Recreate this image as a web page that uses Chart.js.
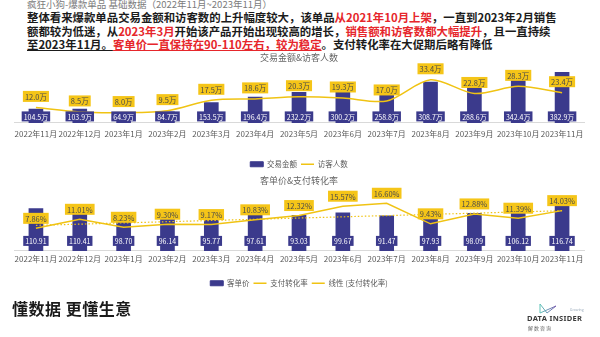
<!DOCTYPE html>
<html lang="zh-CN">
<head>
<meta charset="utf-8">
<title>疯狂小狗-爆款单品 基础数据</title>
<script src="https://cdn.jsdelivr.net/npm/chart.js@4.4.1/dist/chart.umd.min.js"></script>
<style>
  html, body { margin: 0; padding: 0; background: #fff; }
  body {
    width: 600px; height: 337px; position: relative; overflow: hidden;
    font-family: "Noto Sans CJK SC", "Noto Sans", sans-serif;
  }
  .sub {
    position: absolute; left: 27px; top: -1px; font-size: 9.5px; line-height: 11px;
    color: #7b7b7b; white-space: nowrap;
  }
  .summary {
    position: absolute; left: 27px; top: 11px; font-size: 11.4px; line-height: 13.6px;
    font-weight: 700; color: #1b1b1b; white-space: nowrap;
  }
  .summary .hl { color: #e6262b; }
  .summary .ul { text-decoration: underline; }
  canvas { position: absolute; left: 0; }
  #amountChart { top: 49px; }
  #priceChart { top: 172px; }
  .slogan {
    position: absolute; left: 12px; top: 298px; font-size: 16px; line-height: 20px;
    font-weight: 700; color: #1b1b1b; letter-spacing: 0.5px; white-space: nowrap;
  }
  .logo { position: absolute; left: 524px; top: 298px; width: 66px; height: 36px; }
  .logo .name {
    position: absolute; left: 3px; top: 15px; font-size: 7.5px; font-weight: 700;
    color: #3a3a3a; letter-spacing: 0.3px; white-space: nowrap; font-family: "Noto Sans", sans-serif;
  }
  .logo .grow { position: absolute; left: 46px; top: 9px; font-size: 3.5px; color: #9ab; }
  .logo .cn { position: absolute; left: 4px; top: 26px; font-size: 5px; color: #666; letter-spacing: 1px; }
</style>
</head>
<body>
<div class="sub">疯狂小狗-爆款单品 基础数据（2022年11月~2023年11月）</div>
<div class="summary">
  <div>整体看来爆款单品交易金额和访客数的上升幅度较大，该单品<span class="hl">从2021年10月上架</span>，一直到2023年2月销售</div>
  <div>额都较为低迷，从<span class="hl">2023年3月</span>开始该产品开始出现较高的增长，<span class="hl">销售额和访客数都大幅提升</span>，且一直持续</div>
  <div><span class="ul">至2023年11月。</span><span class="hl ul">客单价一直保持在90-110左右，较为稳定</span>。支付转化率在大促期后略有降低</div>
</div>

<canvas id="amountChart" width="600" height="129"></canvas>
<canvas id="priceChart" width="600" height="125"></canvas>

<div class="slogan">懂数据 更懂生意</div>
<div class="logo">
  <svg width="40" height="16" viewBox="0 0 40 16">
    <defs>
      <linearGradient id="lg" x1="0" x2="1" y1="0" y2="0">
        <stop offset="0" stop-color="#5fc4b8"/>
        <stop offset="1" stop-color="#7a5fb0"/>
      </linearGradient>
    </defs>
    <polyline points="16,3 23,12 32,5 16,12 16,3" fill="none" stroke="url(#lg)" stroke-width="1"/>
  </svg>
  <div class="grow">Growing</div>
  <div class="name">DATA INSIDER</div>
  <div class="cn">解数咨询</div>
</div>

<script>
const months = ['2022年11月', '2022年12月', '2023年1月', '2023年2月', '2023年3月', '2023年4月',
  '2023年5月', '2023年6月', '2023年7月', '2023年8月', '2023年9月', '2023年10月', '2023年11月'];

// 交易金额 / 访客人数（万）
const amount = [104.5, 103.9, 64.9, 84.7, 153.5, 196.4, 232.2, 300.2, 258.8, 308.7, 288.6, 342.4, 382.9];
const visitors = [12.0, 8.5, 8.0, 9.5, 17.5, 18.6, 20.3, 19.3, 17.0, 33.4, 22.8, 28.3, 23.4];

// 客单价 / 支付转化率（%）
const price = [110.91, 110.41, 98.70, 96.14, 95.77, 97.61, 93.03, 99.67, 91.47, 97.93, 98.09, 106.12, 116.74];
const conversion = [7.86, 11.01, 8.23, 9.30, 9.17, 10.83, 12.32, 15.57, 16.60, 9.43, 12.88, 11.39, 14.03];
// 线性趋势线首尾两端
const trendEnds = [8.9, 14.0];

const NAVY = '#3b3a8c';
const GOLD = '#f0c313';
const FONT = '"Noto Sans CJK SC", "Noto Sans", sans-serif';

Chart.defaults.font.family = FONT;

// 在柱子底部 / 折线点上方画带底色的数值框
const valueBoxes = {
    id: 'valueBoxes',
    afterDatasetsDraw(chart) {
        const ctx = chart.ctx;
        const base = chart.chartArea.bottom;
        chart.data.datasets.forEach((ds, i) => {
            const box = ds.box;
            if (!box) return;
            const meta = chart.getDatasetMeta(i);
            ctx.save();
            ctx.font = `${box.size}px ${FONT}`;
            ctx.textAlign = 'center';
            ctx.textBaseline = 'middle';
            meta.data.forEach((el, j) => {
                const text = box.format(ds.data[j]);
                const w = ctx.measureText(text).width + 4;
                const h = box.height;
                const cy = box.anchor === 'base' ? base - box.offset : el.y - box.offset;
                ctx.fillStyle = box.bg;
                ctx.fillRect(el.x - w / 2, cy - h / 2, w, h);
                ctx.fillStyle = box.color;
                ctx.fillText(text, el.x, cy + 0.5);
            });
            ctx.restore();
        });
    }
};

// 图例按数据集顺序排列，柱子用方块、折线用线段
function legendItems(chart) {
    const items = Chart.defaults.plugins.legend.labels.generateLabels(chart);
    items.sort((a, b) => a.datasetIndex - b.datasetIndex);
    items.forEach((it) => {
        const ds = chart.data.datasets[it.datasetIndex];
        it.pointStyle = ds.type === 'bar' ? 'rect' : 'line';
        it.lineWidth = ds.type === 'bar' ? 1 : 1.5;
    });
    return items;
}

function makeOptions(title, barMax, lineMax, pad) {
    return {
        responsive: false,
        animation: false,
        layout: { padding: { left: 14, right: 16, top: 0, bottom: 0 } },
        scales: {
            x: {
                grid: { display: false, drawTicks: false },
                border: { display: true, color: '#d9d9d9' },
                ticks: {
                    autoSkip: false, maxRotation: 0, minRotation: 0,
                    padding: pad.tick, color: '#5a5a5a', font: { size: 8 }
                },
                afterFit: (scale) => { scale.height += pad.gap; }
            },
            y: { display: false, min: 0, max: barMax },
            y1: { display: false, min: 0, max: lineMax }
        },
        plugins: {
            title: {
                display: true, text: title, color: '#666',
                font: { size: 9, weight: 'normal' },
                padding: { top: 3, bottom: pad.title }
            },
            legend: {
                position: 'bottom',
                labels: {
                    usePointStyle: true, pointStyleWidth: 13, boxHeight: 5,
                    padding: 4, color: '#595959', font: { size: 7.5 },
                    generateLabels: legendItems
                }
            },
            tooltip: { enabled: false }
        }
    };
}

new Chart(document.getElementById('amountChart'), {
    type: 'bar',
    data: {
        labels: months,
        datasets: [
            {
                type: 'bar', label: '交易金额', data: amount, yAxisID: 'y', order: 1,
                backgroundColor: NAVY, borderColor: NAVY, borderWidth: 0, barThickness: 14,
                box: { bg: NAVY, color: '#fff', size: 7, height: 10, anchor: 'base', offset: 6.5,
                    format: v => v.toFixed(1) + '万' }
            },
            {
                type: 'line', label: '访客人数', data: visitors, yAxisID: 'y1', order: 0,
                borderColor: GOLD, backgroundColor: GOLD, borderWidth: 1.5,
                pointRadius: 0, tension: 0.3,
                box: { bg: '#f5c518', color: '#4a4a4a', size: 7.5, height: 11, anchor: 'point', offset: 11,
                    format: v => v.toFixed(1) + '万' }
            }
        ]
    },
    options: makeOptions('交易金额&访客人数', 440, 45, { title: 2, tick: 6, gap: 12 }),
    plugins: [valueBoxes]
});

new Chart(document.getElementById('priceChart'), {
    type: 'bar',
    data: {
        labels: months,
        datasets: [
            {
                type: 'bar', label: '客单价', data: price, yAxisID: 'y', order: 2,
                backgroundColor: NAVY, borderColor: NAVY, borderWidth: 0, barThickness: 14,
                box: { bg: NAVY, color: '#fff', size: 7, height: 10, anchor: 'base', offset: 10,
                    format: v => v.toFixed(2) }
            },
            {
                type: 'line', label: '支付转化率', data: conversion, yAxisID: 'y1', order: 0,
                borderColor: GOLD, backgroundColor: GOLD, borderWidth: 1.5,
                pointRadius: 0, tension: 0,
                box: { bg: '#f5c518', color: '#4a4a4a', size: 7.5, height: 11, anchor: 'point', offset: 10,
                    format: v => v.toFixed(2) + '%' }
            },
            {
                type: 'line', label: '线性 (支付转化率)', yAxisID: 'y1', order: 1,
                data: [trendEnds[0], null, null, null, null, null, null, null, null, null, null, null, trendEnds[1]],
                spanGaps: true, borderColor: GOLD, backgroundColor: GOLD, borderWidth: 1.2,
                borderDash: [1.5, 2], pointRadius: 0
            }
        ]
    },
    options: makeOptions('客单价&支付转化率', 150, 20, { title: 7.7, tick: 3, gap: 9 }),
    plugins: [valueBoxes]
});
</script>
</body>
</html>
